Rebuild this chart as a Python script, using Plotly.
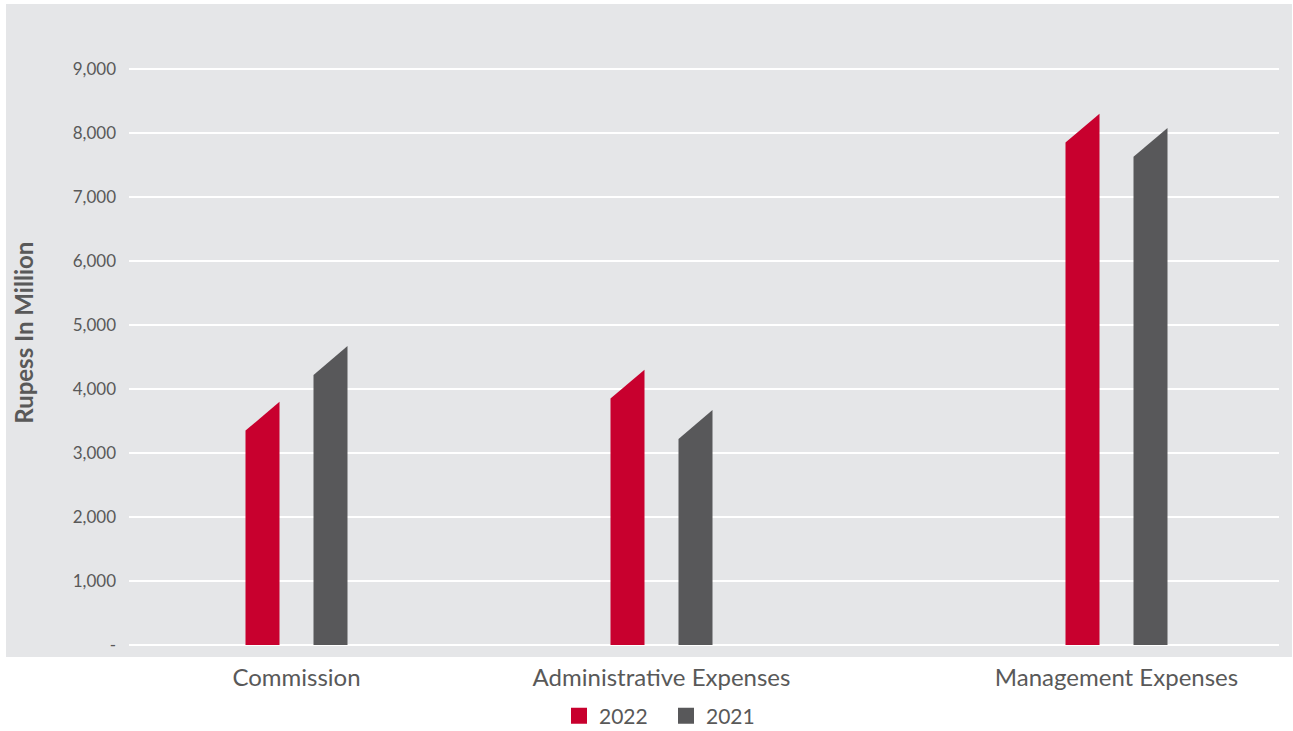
import plotly.graph_objects as go

# Expense categories and values (Rupees in million, peak height of each column)
categories = ["Commission", "Administrative Expenses", "Management Expenses"]
values_2022 = [3800, 4300, 8300]
values_2021 = [4670, 3670, 8080]
y_ticks = [0, 1000, 2000, 3000, 4000, 5000, 6000, 7000, 8000, 9000]
y_tick_labels = ["-", "1,000", "2,000", "3,000", "4,000", "5,000", "6,000", "7,000", "8,000", "9,000"]

# layout settings
group_centers = [167.5, 532.5, 987.5]   # x-axis units (axis spans 0..1150)
bar_width = 34
pair_offset = 34
bevel = 450                              # rise of the slanted column top
red = "#C8002E"
grey = "#58585A"
bg = "#E5E6E8"
text_col = "#595959"
font_family = "Lato, 'Open Sans', sans-serif"

fig = go.Figure()


def add_series(vals, offset, color, name):
    xs = [c + offset for c in group_centers]
    # each column is a single polygon: flat bottom at 0, top slanting up to its value
    for x, v in zip(xs, vals):
        xl, xr = x - bar_width / 2, x + bar_width / 2
        fig.add_trace(go.Scatter(
            x=[xl, xl, xr, xr, xl], y=[0, v - bevel, v, 0, 0],
            mode="lines", fill="toself", fillcolor=color,
            line=dict(width=0, color=color),
            showlegend=False, hoverinfo="skip", name=name,
        ))
    # legend entry
    fig.add_trace(go.Scatter(
        x=[None], y=[None], mode="markers", name=name,
        marker=dict(symbol="square", size=16, color=color),
    ))


add_series(values_2022, -pair_offset, red, "2022")
add_series(values_2021, pair_offset, grey, "2021")

# grey panel behind the plot and the y labels
fig.add_shape(
    type="rect", xref="paper", yref="paper",
    x0=(6 - 129) / 1150, x1=(1292 - 129) / 1150,
    y0=-12 / 640, y1=641 / 640,
    fillcolor=bg, line=dict(width=0), layer="below",
)

fig.add_annotation(
    text="<b>Rupess In Million</b>", textangle=-90,
    xref="paper", yref="paper", x=(7 - 129) / 1150, y=0.487,
    showarrow=False, font=dict(size=24, color=text_col, family=font_family),
)

fig.update_layout(
    width=1293, height=731,
    margin=dict(l=129, r=14, t=5, b=86, autoexpand=False),
    paper_bgcolor="white", plot_bgcolor="rgba(0,0,0,0)",
    font=dict(family=font_family, color=text_col),
    xaxis=dict(
        range=[0, 1150], tickvals=group_centers, ticktext=categories,
        showgrid=False, zeroline=False, showline=False, ticks="",
        tickfont=dict(size=24, color=text_col), ticklabelstandoff=16,
        fixedrange=True,
    ),
    yaxis=dict(
        range=[0, 10000], tickvals=y_ticks, ticktext=y_tick_labels,
        showgrid=True, gridcolor="white", gridwidth=1.5,
        zeroline=True, zerolinecolor="white", zerolinewidth=1.5,
        showline=False, ticks="",
        tickfont=dict(size=17, color=text_col), ticklabelstandoff=12,
        fixedrange=True,
    ),
    legend=dict(
        orientation="h", x=(666 - 129) / 1150, xanchor="center",
        y=(645 - 716) / 640, yanchor="middle",
        font=dict(size=21, color=text_col), bgcolor="rgba(0,0,0,0)",
        itemwidth=30, tracegroupgap=0, entrywidth=62,
    ),
)

fig.write_html("out.html")
